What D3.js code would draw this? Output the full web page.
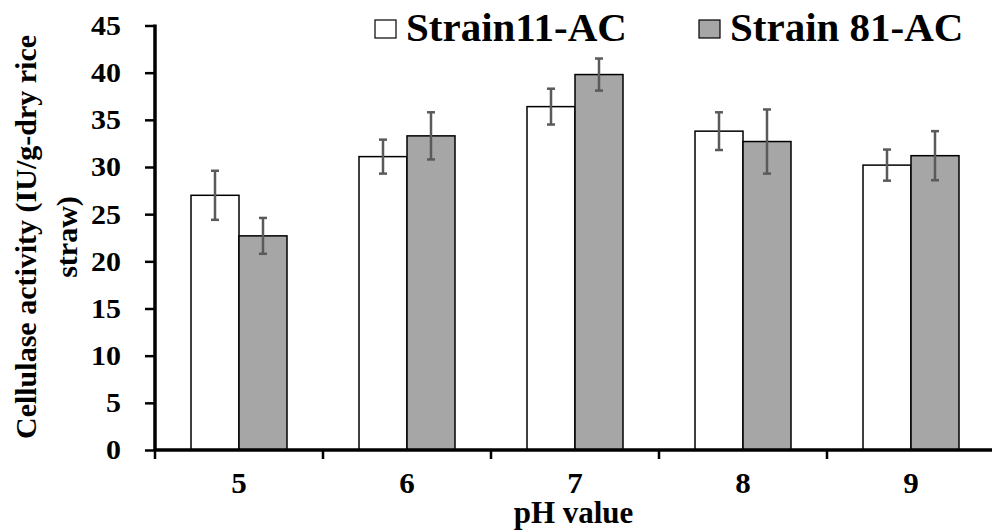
<!DOCTYPE html>
<html>
<head>
<meta charset="utf-8">
<script src="https://cdn.jsdelivr.net/npm/d3@7"></script>
<style>
  body { margin: 0; background: #fff; }
  svg text { font-family: "Liberation Serif", "Times New Roman", serif; font-weight: bold; fill: #000; }
</style>
</head>
<body>
<svg width="992" height="531"></svg>
<script>
// data
var phValues = ["5", "6", "7", "8", "9"];
var seriesNames = ["Strain11-AC", "Strain 81-AC"];
var strain11 = [27.0, 31.1, 36.4, 33.8, 30.2];
var strain11Err = [2.6, 1.8, 1.9, 2.0, 1.65];
var strain81 = [22.7, 33.3, 39.8, 32.7, 31.2];
var strain81Err = [1.9, 2.5, 1.7, 3.4, 2.6];
var yTicks = [0, 5, 10, 15, 20, 25, 30, 35, 40, 45];

var colors = ["#ffffff", "#a6a6a6"];

var svg = d3.select("svg");

var mLeft = 155, mRight = 995, mTop = 25.5, mBottom = 450;

var x = d3.scaleBand()
    .domain(phValues)
    .range([mLeft, mRight])
    .paddingInner(0.4286)
    .paddingOuter(0.2143);

var x1 = d3.scaleBand()
    .domain(seriesNames)
    .range([0, x.bandwidth()]);

var y = d3.scaleLinear()
    .domain([0, 45])
    .range([mBottom, mTop]);

var flat = [];
phValues.forEach(function(p, i) {
    flat.push({ph: p, s: seriesNames[0], v: strain11[i], e: strain11Err[i], c: colors[0]});
    flat.push({ph: p, s: seriesNames[1], v: strain81[i], e: strain81Err[i], c: colors[1]});
});

// bars
svg.append("g").selectAll("rect")
    .data(flat)
    .enter()
    .append("rect")
    .attr("x", function(d) { return x(d.ph) + x1(d.s); })
    .attr("y", function(d) { return y(d.v); })
    .attr("width", x1.bandwidth())
    .attr("height", function(d) { return mBottom - y(d.v); })
    .attr("fill", function(d) { return d.c; })
    .attr("stroke", "#000")
    .attr("stroke-width", 1.5);

// error bars
var eb = svg.append("g")
    .attr("stroke", "#5a5a5a")
    .attr("stroke-width", 2.5);

flat.forEach(function(d) {
    var cx = x(d.ph) + x1(d.s) + x1.bandwidth() / 2;
    eb.append("line")
        .attr("x1", cx).attr("x2", cx)
        .attr("y1", y(d.v + d.e)).attr("y2", y(d.v - d.e));
    eb.append("line")
        .attr("x1", cx - 4).attr("x2", cx + 4)
        .attr("y1", y(d.v + d.e)).attr("y2", y(d.v + d.e));
    eb.append("line")
        .attr("x1", cx - 4).attr("x2", cx + 4)
        .attr("y1", y(d.v - d.e)).attr("y2", y(d.v - d.e));
});

// the source figure is slightly stretched sideways, so tick labels are widened a bit
var sx = 1.07;

// y axis
var yAxis = svg.append("g")
    .attr("transform", "translate(" + mLeft + ",0)")
    .call(d3.axisLeft(y).tickValues(yTicks).tickSize(10).tickPadding(24));
yAxis.select(".domain").attr("stroke", "#000").attr("stroke-width", 3.5)
    .attr("d", "M0," + (mTop - 1) + "V" + mBottom);
yAxis.selectAll(".tick line").attr("stroke", "#000").attr("stroke-width", 2.5);
yAxis.selectAll(".tick text")
    .attr("font-size", null).attr("font-family", null)
    .style("font-size", "28px")
    .attr("x", -34 / sx)
    .attr("transform", "scale(" + sx + ",1)");

// x axis (labels at band centres, ticks at the band edges)
var xAxis = svg.append("g")
    .attr("transform", "translate(0," + mBottom + ")")
    .call(d3.axisBottom(x).tickSize(0).tickPadding(22));
xAxis.select(".domain").attr("stroke", "#000").attr("stroke-width", 3.5)
    .attr("d", "M" + mLeft + ",0H" + mRight);
xAxis.selectAll(".tick text")
    .attr("font-size", null).attr("font-family", null)
    .style("font-size", "29px")
    .attr("transform", "scale(" + sx + ",1)");

var edges = phValues.map(function(p) { return x(p) - x.step() * x.paddingInner() / 2; });
edges.push(mRight);
xAxis.selectAll("line.edge")
    .data(edges)
    .enter()
    .append("line")
    .attr("class", "edge")
    .attr("x1", function(d) { return d; })
    .attr("x2", function(d) { return d; })
    .attr("y1", 0)
    .attr("y2", 9)
    .attr("stroke", "#000")
    .attr("stroke-width", 2.5);

// axis titles
svg.append("text")
    .attr("x", (mLeft + 992) / 2)
    .attr("y", 523)
    .attr("text-anchor", "middle")
    .style("font-size", "31px")
    .text("pH value");

svg.append("text")
    .attr("transform", "translate(25,237) rotate(-90)")
    .attr("text-anchor", "middle")
    .attr("dy", "0.35em")
    .style("font-size", "30px")
    .text("Cellulase activity (IU/g-dry rice");

svg.append("text")
    .attr("transform", "translate(66,237) rotate(-90)")
    .attr("text-anchor", "middle")
    .attr("dy", "0.35em")
    .style("font-size", "30px")
    .text("straw)");

// legend
var legendX = [375, 699];
var legend = svg.append("g").selectAll("g")
    .data(seriesNames)
    .enter()
    .append("g")
    .attr("transform", function(d, i) { return "translate(" + legendX[i] + ",20)"; });

legend.append("rect")
    .attr("width", 21)
    .attr("height", 18)
    .attr("fill", function(d, i) { return colors[i]; })
    .attr("stroke", "#000")
    .attr("stroke-width", 1.2);

legend.append("text")
    .attr("x", 31)
    .attr("y", 21)
    .style("font-size", "41px")
    .text(function(d) { return d; });
</script>
</body>
</html>
